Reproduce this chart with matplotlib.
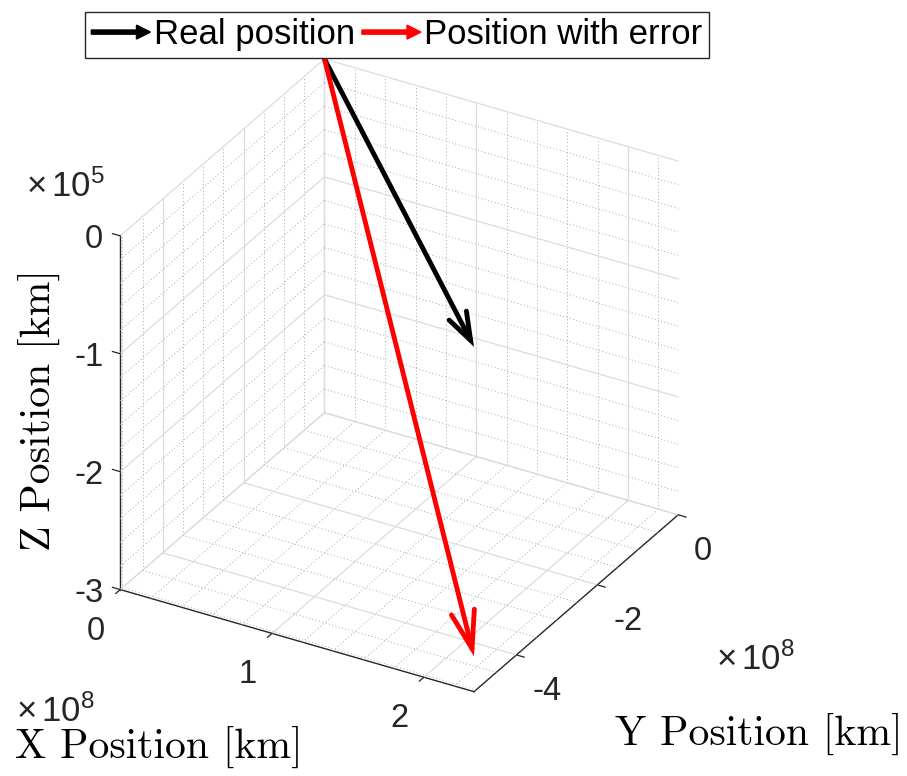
"""Real position and position with error drawn as 3D arrows from the origin."""

import numpy as np
import matplotlib
matplotlib.use("Agg")
import matplotlib.pyplot as plt
import matplotlib.patches as mpatches
from matplotlib.patches import FancyArrowPatch
from matplotlib.legend_handler import HandlerPatch
from matplotlib.transforms import offset_copy
from mpl_toolkits.mplot3d import proj3d

# positions in km, both arrows start at the origin
ORIGIN = [0.0, 0.0, 0.0]
REAL_POSITION = [2.33e8, -5.05e8, -7.5e3]
ERROR_POSITION = [2.33e8, -5.05e8, -2.7e5]
LABELS = ["Real position", "Position with error"]
COLORS = ["black", "red"]
HEAD_SIZES = [(20, 7), (27, 8.5)]  # head length, head width in points

X_LIM = [0, 2.33e8]
Y_LIM = [-5.05e8, 0]
Z_LIM = [-3e5, 0]
XY_SCALE = 1e8
Z_SCALE = 1e5
X_TICKS = [0, 1, 2]
Y_TICKS = [-4, -2, 0]
Z_TICKS = [-3, -2, -1, 0]
X_MINOR_STEP = 0.2
Y_MINOR_STEP = 0.5
Z_MINOR_STEP = 0.2

TICK_FONT = "Liberation Sans"
TICK_SIZE = 23.5
EXP_SIZE = 25
LABEL_SIZE = 30
TICK_LEN = 0.022  # fraction of the axis range it points along
AXIS_COLOR = "#262626"
MAJOR_GRID = dict(color="#dcdcdc", linewidth=0.9, linestyle="-", zorder=1)
MINOR_GRID = dict(color="#a8a8a8", linewidth=0.7, linestyle=(0, (1, 2.5)), zorder=1)
TICK_STYLE = dict(color=AXIS_COLOR, linewidth=0.9, zorder=2)

plt.rcParams["mathtext.fontset"] = "custom"
plt.rcParams["mathtext.rm"] = TICK_FONT
plt.rcParams["mathtext.it"] = TICK_FONT + ":italic"


class Arrow3D(FancyArrowPatch):
    """2D arrow patch whose ends follow the 3D projection."""

    def __init__(self, start, end, **kwargs):
        super().__init__((0, 0), (0, 0), **kwargs)
        self._verts3d = list(zip(start, end))

    def do_3d_projection(self, renderer=None):
        xs, ys, zs = proj3d.proj_transform(*self._verts3d, self.axes.M)
        self.set_positions((xs[0], ys[0]), (xs[1], ys[1]))
        return np.min(zs)


fig = plt.figure(figsize=(9.07, 7.76), dpi=100)
ax = fig.add_axes([-0.0714, 0.0028, 1.0, 1.0], projection="3d")
ax.set_proj_type("ortho")
ax.view_init(elev=30, azim=-60)
ax.set_box_aspect((1, 1, 1), zoom=0.885)
ax.computed_zorder = False

xlim = [v / XY_SCALE for v in X_LIM]
ylim = [v / XY_SCALE for v in Y_LIM]
zlim = [v / Z_SCALE for v in Z_LIM]
ax.set_xlim(xlim)
ax.set_ylim(ylim)
ax.set_zlim(zlim)

# white panes, no pane edges, no built-in grid or ticks (drawn below, MATLAB style)
ax.grid(False)
ax.set_xticks([])
ax.set_yticks([])
ax.set_zticks([])
for axis in (ax.xaxis, ax.yaxis, ax.zaxis):
    axis.set_pane_color((1, 1, 1, 1))
    axis.pane.set_edgecolor((1, 1, 1, 0))
    axis.line.set_color(AXIS_COLOR)
    axis.line.set_linewidth(1.0)
    axis._axinfo["axisline"]["color"] = AXIS_COLOR
    axis.label.set_visible(False)
    axis.offsetText.set_visible(False)
ax.zaxis.set_ticks_position("lower")


def minor_values(lo, hi, step, majors):
    vals = np.arange(np.ceil(lo / step) * step, hi + 1e-9, step)
    return [v for v in vals if min(abs(v - m) for m in majors) > 1e-6]


# grid on the back walls: x = xmin, y = ymax, floor z = zmin
x0, y1, z0 = xlim[0], ylim[1], zlim[0]
for vals, style in ((X_TICKS, MAJOR_GRID), (minor_values(*xlim, X_MINOR_STEP, X_TICKS), MINOR_GRID)):
    for v in vals:
        ax.plot([v, v], [y1, y1], zlim, **style)
        ax.plot([v, v], ylim, [z0, z0], **style)
for vals, style in ((Y_TICKS, MAJOR_GRID), (minor_values(*ylim, Y_MINOR_STEP, Y_TICKS), MINOR_GRID)):
    for v in vals:
        ax.plot([x0, x0], [v, v], zlim, **style)
        ax.plot(xlim, [v, v], [z0, z0], **style)
for vals, style in ((Z_TICKS, MAJOR_GRID), (minor_values(*zlim, Z_MINOR_STEP, Z_TICKS), MINOR_GRID)):
    for v in vals:
        ax.plot([x0, x0], ylim, [v, v], **style)
        ax.plot(xlim, [y1, y1], [v, v], **style)

# tick marks pointing out of the box
dx = TICK_LEN * (xlim[1] - xlim[0])
dy = TICK_LEN * (ylim[1] - ylim[0])
for t in X_TICKS:
    ax.plot([t, t], [ylim[0], ylim[0] - dy], [zlim[0], zlim[0]], **TICK_STYLE)
for t in Y_TICKS:
    ax.plot([xlim[1], xlim[1] + dx], [t, t], [zlim[0], zlim[0]], **TICK_STYLE)
for t in Z_TICKS:
    ax.plot([xlim[0], xlim[0] - dx], [ylim[0], ylim[0]], [t, t], **TICK_STYLE)

# arrows from the origin to both positions
for pos, color, (hl, hw) in zip((REAL_POSITION, ERROR_POSITION), COLORS, HEAD_SIZES):
    start = (ORIGIN[0] / XY_SCALE, ORIGIN[1] / XY_SCALE, ORIGIN[2] / Z_SCALE)
    end = (pos[0] / XY_SCALE, pos[1] / XY_SCALE, pos[2] / Z_SCALE)
    ax.add_artist(Arrow3D(start, end, color=color, linewidth=3.5, zorder=5,
                          arrowstyle="->,head_length=%g,head_width=%g" % (hl, hw),
                          shrinkA=0, shrinkB=0, mutation_scale=1,
                          capstyle="round", joinstyle="miter"))

# tick labels next to the ticks with a pixel offset
tick_font = dict(family=TICK_FONT, fontsize=TICK_SIZE, color=AXIS_COLOR, va="baseline")
for t in X_TICKS:
    ax.text(t, ylim[0], zlim[0], str(t), ha="center",
            transform=offset_copy(ax.transData, fig=fig, x=-24, y=-50, units="dots"), **tick_font)
for t in Y_TICKS:
    ax.text(xlim[1], t, zlim[0], str(t), ha="left",
            transform=offset_copy(ax.transData, fig=fig, x=16, y=-45, units="dots"), **tick_font)
for t in Z_TICKS:
    ax.text(xlim[0], ylim[0], t, str(t), ha="right",
            transform=offset_copy(ax.transData, fig=fig, x=-17, y=-12, units="dots"), **tick_font)

# axis titles and exponents placed as figure text, like the original
fig.text(15 / 907, 1 - 758 / 776, "X Position [km]", family="cmr10", fontsize=LABEL_SIZE)
fig.text(615 / 907, 1 - 745 / 776, "Y Position [km]", family="cmr10", fontsize=LABEL_SIZE)
fig.text(18 / 907, 1 - 410 / 776, "Z Position [km]", family="cmr10", fontsize=LABEL_SIZE,
         rotation=90, va="center")
fig.text(26 / 907, 1 - 197 / 776, r"$\times\,10^{5}$", fontsize=EXP_SIZE, color=AXIS_COLOR)
fig.text(16 / 907, 1 - 722 / 776, r"$\times\,10^{8}$", fontsize=EXP_SIZE, color=AXIS_COLOR)
fig.text(716 / 907, 1 - 670 / 776, r"$\times\,10^{8}$", fontsize=EXP_SIZE, color=AXIS_COLOR)


def make_arrow(legend, orig_handle, xdescent, ydescent, width, height, fontsize):
    return mpatches.FancyArrow(-xdescent, height / 2 - ydescent, width, 0,
                               width=3, head_width=10, head_length=10,
                               length_includes_head=True)


handles = [mpatches.FancyArrow(0, 0, 1, 0, color=c) for c in COLORS]
fig.legend(handles, LABELS, loc="upper center", bbox_to_anchor=(397 / 907, 1 - 12 / 776),
           ncol=2, frameon=True, fancybox=False, edgecolor="#262626", framealpha=1,
           handlelength=1.7, handletextpad=0.1, columnspacing=0.2, borderpad=0.18,
           borderaxespad=0, prop={"family": TICK_FONT, "size": 25},
           handler_map={mpatches.FancyArrow: HandlerPatch(patch_func=make_arrow)})

fig.savefig("out.png")
